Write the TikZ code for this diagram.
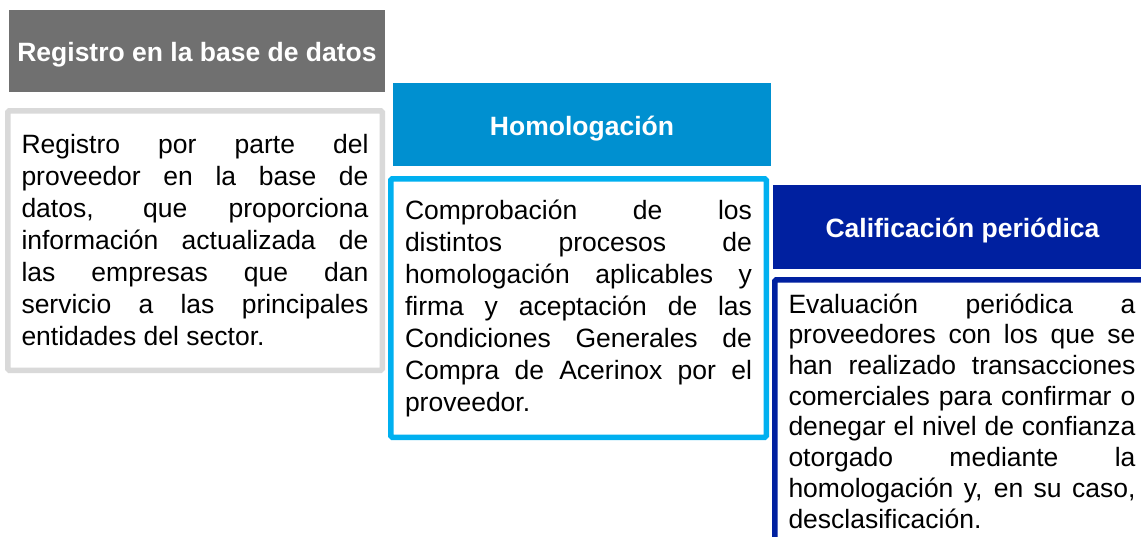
\documentclass[tikz,border=0pt]{standalone}
\usepackage{fontspec}
\setmainfont{Liberation Sans}
\usepackage{xcolor}

\definecolor{grisOsc}{RGB}{112,112,112}
\definecolor{grisCla}{RGB}{217,217,217}
\definecolor{azulMed}{RGB}{0,144,208}
\definecolor{azulCla}{RGB}{0,176,240}
\definecolor{azulOsc}{RGB}{0,32,160}

\tolerance=10000

\begin{document}
\begin{tikzpicture}[%
    x=1pt, y=-1pt,
    cabecera/.style={
      rectangle,
      text=white,
      font=\fontsize{26.5pt}{32pt}\selectfont\bfseries,
      align=center,
      text height=21pt,
      text depth=0pt,
      inner sep=0pt
    },
    cuerpo/.style={
      rectangle,
      fill=white,
      line width=5.5pt,
      rounded corners=1.5pt,
      text width=347pt,
      align=justify,
      font=\fontsize{26.5pt}{32pt}\selectfont,
      inner sep=0pt
    }
  ]
    % Lienzo
    \useasboundingbox (0,0) rectangle (1141,536);
    \clip (0,0) rectangle (1141,536);
    \fill[white] (0,0) rectangle (1141,536);

    % Registro
    \node[cabecera, fill=grisOsc, minimum width=376pt, minimum height=82pt] (reg) at (197,51)
      {Registro en la base de datos};
    \node[cuerpo, draw=grisCla, minimum width=374.5pt, minimum height=259.5pt] (regTxt) at (195,240.5)
      {Registro por parte del\linebreak
       proveedor en la base de\linebreak
       datos, que proporciona\linebreak
       información actualizada de\linebreak
       las empresas que dan\linebreak
       servicio a las principales\linebreak
       entidades del sector.};

    % Homologacion
    \node[cabecera, fill=azulMed, minimum width=378pt, minimum height=83pt] (hom) at (582,124.5)
      {Homologación};
    \node[cuerpo, draw=azulCla, minimum width=375.5pt, minimum height=258.5pt] (homTxt) at (578.5,308)
      {Comprobación de los\linebreak
       distintos procesos de\linebreak
       homologación aplicables y\linebreak
       firma y aceptación de las\linebreak
       Condiciones Generales de\linebreak
       Compra de Acerinox por el\linebreak
       proveedor.};

    % Calificacion
    \node[cabecera, fill=azulOsc, minimum width=379pt, minimum height=84pt] (cal) at (962.5,227)
      {Calificación periódica};
    \node[cuerpo, draw=azulOsc, minimum width=374.5pt, minimum height=262.5pt,
          font=\fontsize{26.5pt}{30.7pt}\selectfont] (calTxt) at (962,411)
      {Evaluación periódica a\linebreak
       proveedores con los que se\linebreak
       han realizado transacciones\linebreak
       comerciales para confirmar o\linebreak
       denegar el nivel de confianza\linebreak
       otorgado mediante la\linebreak
       homologación y, en su caso,\linebreak
       desclasificación.};
\end{tikzpicture}
\end{document}
